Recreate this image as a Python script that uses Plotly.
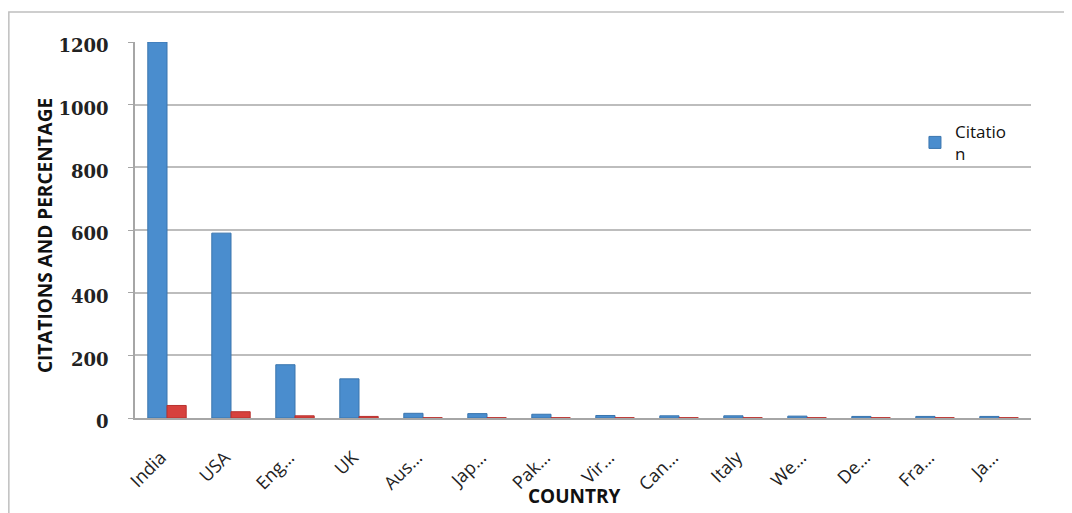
import plotly.graph_objects as go

countries = ["India", "USA", "Eng…", "UK", "Aus…", "Jap…", "Pak…", "Vir…",
             "Can…", "Italy", "We…", "De…", "Fra…", "Ja…"]
citations = [1200, 590, 170, 125, 15, 14, 12, 8, 7, 7, 6, 5, 5, 5]
percentage = [40, 20, 7, 5, 1, 1, 1, 1, 1, 1, 1, 1, 1, 1]
y_ticks = [0, 200, 400, 600, 800, 1000, 1200]

fig = go.Figure()
fig.add_trace(go.Bar(
    x=countries, y=citations, name="Citatio<br>n",
    marker=dict(color="#4A8DCE", line=dict(color="#3A75AE", width=1)),
))
fig.add_trace(go.Bar(
    x=countries, y=percentage, name="Percentage", showlegend=False,
    marker=dict(color="#D7413D", line=dict(color="#B8322F", width=1)),
))

fig.update_layout(
    width=1072, height=513,
    margin=dict(l=127, r=49, t=34, b=103, autoexpand=False),
    paper_bgcolor="white", plot_bgcolor="white",
    barmode="group", bargap=0.4, bargroupgap=0.0,
    showlegend=True,
    legend=dict(x=0.8705, y=0.809, xanchor="left", yanchor="top",
                bgcolor="rgba(0,0,0,0)",
                font=dict(family="Open Sans", size=17, color="#111111")),
    xaxis=dict(
        showline=True, linecolor="#A6A6A6", linewidth=2,
        showgrid=False, ticks="", tickangle=-45,
        ticklabelstandoff=20, ticklabelshift=-6,
        tickfont=dict(family="Open Sans", size=18, color="#222222"),
        automargin=False,
    ),
    yaxis=dict(
        range=[0, 1200], tickvals=y_ticks,
        showline=True, linecolor="#A6A6A6", linewidth=1.5,
        ticks="outside", ticklen=5, tickcolor="#A6A6A6",
        ticklabelstandoff=16, ticklabelshift=4,
        showgrid=True, gridcolor="#BDBDBD", gridwidth=1.5,
        zeroline=False,
        tickfont=dict(family="DejaVu Serif", size=18, color="#222222", weight="bold"),
        automargin=False,
    ),
    annotations=[
        dict(text="<b>COUNTRY</b>", xref="paper", yref="paper",
             x=0.491, y=-0.2074, xanchor="center", yanchor="middle",
             showarrow=False,
             font=dict(family="Open Sans", size=19, color="#111111")),
        dict(text="<b>CITATIONS AND PERCENTAGE</b>", xref="paper", yref="paper",
             x=-0.1004, y=0.484, xanchor="center", yanchor="middle",
             textangle=-90, showarrow=False,
             font=dict(family="Open Sans", size=19, color="#111111")),
    ],
    shapes=[dict(type="rect", xref="paper", yref="paper",
                 x0=-0.1408, y0=-0.30, x1=1.08, y1=1.0798,
                 line=dict(color="#BFBFBF", width=1.5), layer="below")],
)

fig.write_html("out.html")
